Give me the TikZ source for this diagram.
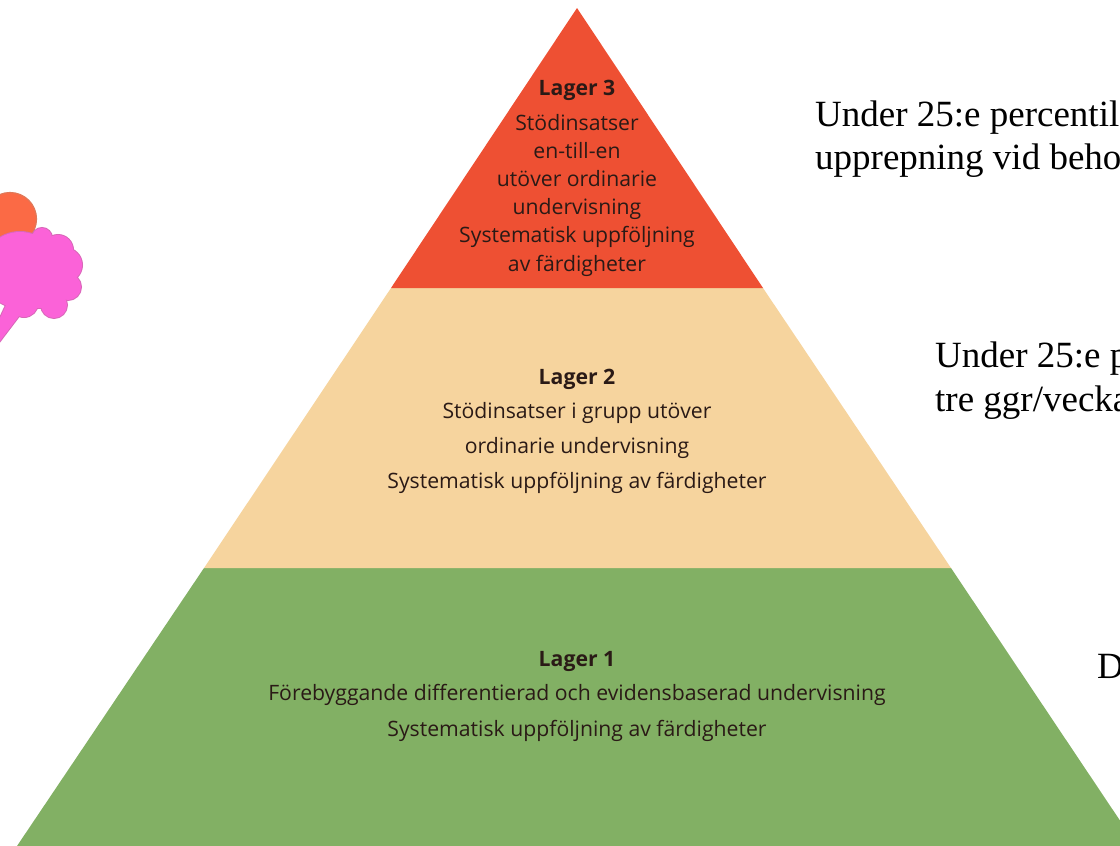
\documentclass[tikz,border=0pt]{standalone}
\usepackage{fontspec}
\setmainfont{Liberation Serif}
\newfontfamily\pyrfont{Open Sans}
\definecolor{lagerred}{HTML}{EE5033}
\definecolor{lagertan}{HTML}{F6D49E}
\definecolor{lagergreen}{HTML}{82B064}
\definecolor{blobpink}{HTML}{FB62D8}
\definecolor{blobedge}{HTML}{D868B8}
\definecolor{bloborange}{HTML}{FB6A45}
\definecolor{orangeedge}{HTML}{E07858}
\definecolor{pyrtext}{HTML}{2A1A16}
\tikzset{
  pyrlabel/.style={anchor=base,inner sep=0pt,text=pyrtext,font=\pyrfont\fontsize{21.2}{24}\selectfont},
  pyrhead/.style={pyrlabel,font=\pyrfont\bfseries\fontsize{21.2}{24}\selectfont},
  sidenote/.style={anchor=base west,inner sep=0pt,text=black,font=\fontsize{37}{43}\selectfont},
}
\newcommand{\blobshape}[1]{%
  \path[#1] (7,303) -- (0,318) -- (0,341) -- (19,316) -- (30,312) -- (22,295) -- cycle;
  \path[#1] (20,270) circle (38);
  \path[#1] (38,272) circle (36);
  \path[#1] (42,238) circle (10);
  \path[#1] (58,250) circle (15);
  \path[#1] (65,265) circle (17);
  \path[#1] (68,287) circle (13);
  \path[#1] (54,305) circle (13);
  \path[#1] (24,303) circle (14);
}
\begin{document}
\begin{tikzpicture}[x=1pt,y=-1pt]
\useasboundingbox (0,0) rectangle (1120,846);
\clip (0,0) rectangle (1120,846);
\fill[lagergreen] (204,568) -- (951,568) -- (1137,846) -- (17,846) -- cycle;
\fill[lagertan] (391,288) -- (763,288) -- (951,568) -- (204,568) -- cycle;
\fill[lagerred] (577,8) -- (763,288) -- (391,288) -- cycle;
% blob
\draw[bloborange,fill=bloborange,draw=orangeedge,line width=1.2pt] (10,219) circle (26.5);
\blobshape{draw=blobedge,line width=2pt}
\blobshape{fill=blobpink}
\node[pyrhead]  (l3h) at (577,95)  {Lager 3};
\node[pyrlabel] (l3a) at (577,130) {Stödinsatser};
\node[pyrlabel] (l3b) at (577,158) {en-till-en};
\node[pyrlabel] (l3c) at (577,186) {utöver ordinarie};
\node[pyrlabel] (l3d) at (577,214) {undervisning};
\node[pyrlabel] (l3e) at (577,242) {Systematisk uppföljning};
\node[pyrlabel] (l3f) at (577,271) {av färdigheter};
\node[pyrhead]  (l2h) at (577,384) {Lager 2};
\node[pyrlabel] (l2a) at (577,418) {Stödinsatser i grupp utöver};
\node[pyrlabel] (l2b) at (577,453) {ordinarie undervisning};
\node[pyrlabel] (l2c) at (577,488) {Systematisk uppföljning av färdigheter};
\node[pyrhead]  (l1h) at (577,666) {Lager 1};
\node[pyrlabel] (l1a) at (577,700) {Förebyggande differentierad och evidensbaserad undervisning};
\node[pyrlabel] (l1b) at (577,736) {Systematisk uppföljning av färdigheter};
\node[sidenote] (n3a) at (815,126) {Under 25:e percentil};
\node[sidenote] (n3b) at (815,169) {upprepning vid beho};
\node[sidenote] (n2a) at (935,367) {Under 25:e p};
\node[sidenote] (n2b) at (935,411) {tre ggr/vecka};
\node[sidenote] (n1a) at (1097,678) {D};
\end{tikzpicture}
\end{document}
